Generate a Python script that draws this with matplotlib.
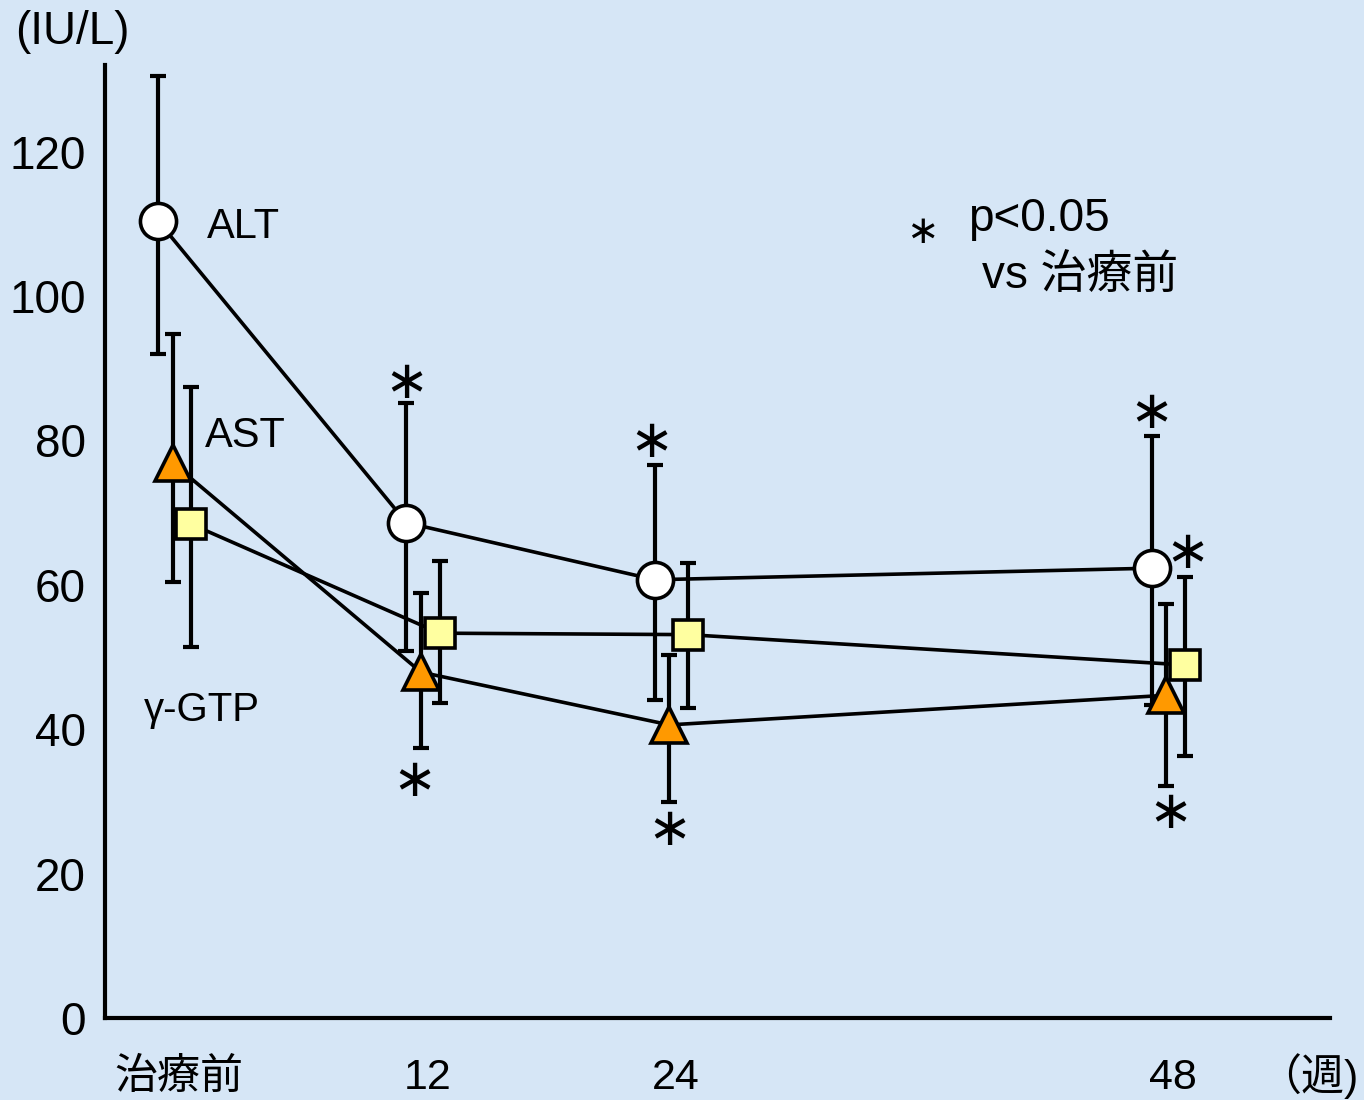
import matplotlib.pyplot as plt

plt.rcParams['font.family'] = ['Liberation Sans', 'Noto Sans CJK JP', 'DejaVu Sans']

# weeks of measurement
weeks = [0, 12, 24, 48]
tick_labels = ['治療前', '12', '24', '48']

# ALT (IU/L)
alt_mean = [110.4, 68.6, 60.7, 62.3]
alt_upper = [130.4, 85.2, 76.6, 80.6]
alt_lower = [91.9, 50.8, 44.1, 43.4]

# AST (IU/L)
ast_mean = [76.9, 47.9, 40.6, 44.7]
ast_upper = [94.8, 58.9, 50.3, 57.4]
ast_lower = [60.4, 37.4, 29.9, 32.1]

# gamma-GTP (IU/L)
gtp_mean = [68.4, 53.3, 53.1, 48.9]
gtp_upper = [87.4, 63.3, 63.0, 61.1]
gtp_lower = [51.4, 43.6, 42.9, 36.3]

bg = '#d6e6f6'

fig = plt.figure(figsize=(13.64, 11), dpi=100, facecolor=bg)
ax = fig.add_axes([0.077, 0.0745, 0.898, 0.8665])
ax.set_facecolor(bg)


def draw_series(ax, offset, mean, upper, lower, marker, ms, face):
    xs = [w + offset for w in weeks]
    err = [[m - l for m, l in zip(mean, lower)], [u - m for m, u in zip(mean, upper)]]
    ax.errorbar(xs, mean, yerr=err, fmt='none', ecolor='black', elinewidth=3,
                capsize=6, capthick=3, zorder=2)
    ax.plot(xs, mean, color='black', lw=2.6, marker=marker, ms=ms,
            markerfacecolor=face, markeredgecolor='black', markeredgewidth=2.6, zorder=3)


draw_series(ax, 1.6, gtp_mean, gtp_upper, gtp_lower, 's', 21, '#ffffa0')
draw_series(ax, 0.7, ast_mean, ast_upper, ast_lower, '^', 26, '#ff9900')
draw_series(ax, 0.0, alt_mean, alt_upper, alt_lower, 'o', 26, 'white')

ax.set_xlim(-2.56, 56.6)
ax.set_ylim(0, 132)
ax.set_yticks([0, 20, 40, 60, 80, 100, 120])
ax.set_yticklabels(['0', '20', '40', '60', '80', '100', '120'], fontsize=33)
ax.set_xticks([w + 1.0 for w in weeks])
ax.set_xticklabels(tick_labels, fontsize=31)
ax.tick_params(axis='both', length=0)
ax.tick_params(axis='y', pad=14)
ax.tick_params(axis='x', pad=29)

for side in ['top', 'right']:
    ax.spines[side].set_visible(False)
for side in ['left', 'bottom']:
    ax.spines[side].set_linewidth(3)

# labels
fig.text(0.011, 0.971, '(IU/L)', fontsize=33, ha='left', va='center')
fig.text(0.996, 0.022, '（週)', fontsize=31, ha='right', va='center')
ax.text(2.35, alt_mean[0] - 0.8, 'ALT', fontsize=30, va='center')
ax.text(2.25, 80.6, 'AST', fontsize=30, va='center')
ax.text(-0.7, 42.6, 'γ-GTP', fontsize=29, va='center')

# significance marks
star = dict(fontsize=38, ha='center', va='center', family=['DejaVu Sans'])
ax.text(12.0, 88.0, '∗', **star)
ax.text(23.85, 79.8, '∗', **star)
ax.text(48.0, 83.8, '∗', **star)
ax.text(49.7, 64.4, '∗', **star)
ax.text(12.4, 32.8, '∗', **star)
ax.text(24.7, 26.0, '∗', **star)
ax.text(48.9, 28.4, '∗', **star)

ax.text(36.9, 108.9, '∗', fontsize=28, ha='center', va='center', family=['DejaVu Sans'])
ax.text(39.1, 110.6, 'p<0.05', fontsize=33, ha='left', va='center')
ax.text(39.8, 102.6, 'vs 治療前', fontsize=33, ha='left', va='center')

fig.savefig('out.png', dpi=100, facecolor=bg)
